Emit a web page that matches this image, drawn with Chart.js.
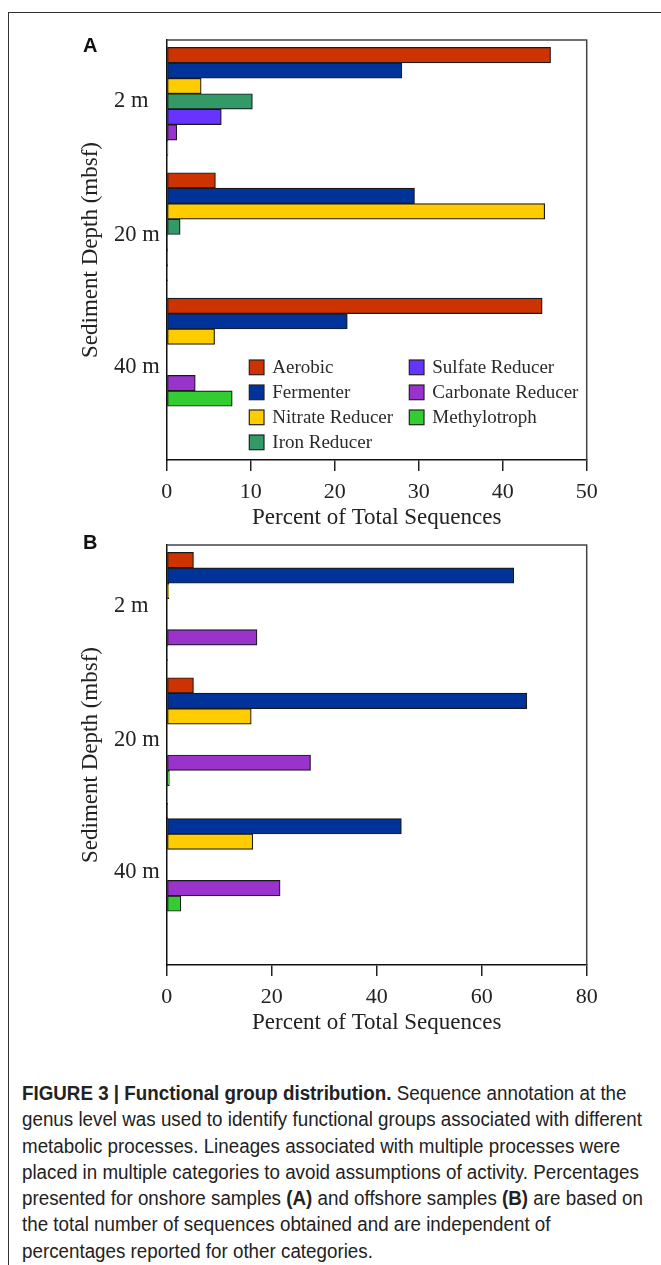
<!DOCTYPE html>
<html>
<head>
<meta charset="utf-8">
<script src="https://cdn.jsdelivr.net/npm/chart.js@4.4.1/dist/chart.umd.min.js"></script>
<style>
body { margin: 0; background: #fff; }
#page { position: relative; width: 661px; height: 1265px; overflow: hidden; }
#frame { position: absolute; left: 8px; top: 12px; width: 720px; height: 1320px; border: 1px solid #333; }
.panel-letter { position: absolute; left: 83px; font: bold 20px "Liberation Sans", Arial, sans-serif; line-height: 20px; color: #111; }
.chart-box { position: absolute; left: 0; width: 661px; height: 535px; }
#caption { position: absolute; left: 22px; top: 1080px; margin: 0; white-space: nowrap; transform-origin: 0 0;
  font: 19.5px "Liberation Sans", Arial, sans-serif; line-height: 26.3px; color: #222; }
</style>
</head>
<body>
<div id="page">
  <div id="frame"></div>
  <div class="chart-box" style="top:0"><canvas id="chartA" width="661" height="535"></canvas></div>
  <div class="chart-box" style="top:505px"><canvas id="chartB" width="661" height="535"></canvas></div>
  <div class="panel-letter" style="top:35px">A</div>
  <div class="panel-letter" style="top:532px">B</div>
  <p id="caption"><b>FIGURE 3 | Functional group distribution.</b> Sequence annotation at the<br>genus level was used to identify functional groups associated with different<br>metabolic processes. Lineages associated with multiple processes were<br>placed in multiple categories to avoid assumptions of activity. Percentages<br>presented for onshore samples <b>(A)</b> and offshore samples <b>(B)</b> are based on<br>the total number of sequences obtained and are independent of<br>percentages reported for other categories.</p>
</div>
<script>
"use strict";
const depths = ["2 m", "20 m", "40 m"];
const groups = ["Aerobic", "Fermenter", "Nitrate Reducer", "Iron Reducer", "Sulfate Reducer", "Carbonate Reducer", "Methylotroph"];
const groupColors = ["#cc3300", "#003399", "#ffcc00", "#339966", "#6633ff", "#9933cc", "#33cc33"];

// percent of total sequences, one array per depth, in the order of groups
// A: onshore
const onshore2m = [45.7, 28.0, 4.1, 10.2, 6.5, 1.2, 0.15];
const onshore20m = [5.8, 29.5, 45.0, 1.6, 0.1, 0.1, 0.1];
const onshore40m = [44.7, 21.5, 5.7, 0, 0, 3.4, 7.8];
// B: offshore
const offshore2m = [5.1, 66.1, 0.4, 0, 0, 17.2, 0.2];
const offshore20m = [5.1, 68.6, 16.1, 0, 0, 27.4, 0.5];
const offshore40m = [0.2, 44.7, 16.4, 0, 0, 21.6, 2.7];

const xTicksA = [0, 10, 20, 30, 40, 50];
const xTicksB = [0, 20, 40, 60, 80];

const serif = '"Liberation Serif", "Times New Roman", serif';

// top and right sides of the plot box
const plotFrame = {
    id: "plotFrame",
    afterDraw(chart) {
        const { ctx, chartArea: a } = chart;
        ctx.save();
        ctx.strokeStyle = "#444";
        ctx.lineWidth = 1.5;
        ctx.beginPath();
        ctx.moveTo(a.left, a.top);
        ctx.lineTo(a.right, a.top);
        ctx.lineTo(a.right, a.bottom);
        ctx.stroke();
        ctx.restore();
    }
};

// two column legend sitting inside the plot
const boxLegend = {
    id: "boxLegend",
    afterDraw(chart, args, opts) {
        if (!opts.show) return;
        const { ctx, chartArea: a } = chart;
        ctx.save();
        ctx.font = "19px " + serif;
        ctx.textBaseline = "middle";
        chart.data.datasets.forEach(function (ds, i) {
            let col = i < 4 ? 0 : 1;
            let row = i < 4 ? i : i - 4;
            let bx = a.left + (col ? 242.6 : 82.6);
            let cy = a.top + 327.3 + row * 25;
            ctx.fillStyle = ds.backgroundColor;
            ctx.fillRect(bx, cy - 7.3, 14.7, 14.7);
            ctx.strokeStyle = "#222";
            ctx.lineWidth = 1.2;
            ctx.strokeRect(bx, cy - 7.3, 14.7, 14.7);
            ctx.fillStyle = "#2a2a2a";
            ctx.fillText(ds.label, bx + 23, cy + 1);
        });
        ctx.restore();
    }
};

function makeChart(id, rows, xTicks, withLegend) {
    const datasets = groups.map(function (name, g) {
        return {
            label: name,
            data: rows.map((row, d) => ({ x: row[g], y: d })),
            backgroundColor: groupColors[g],
            borderColor: "#1a1a1a",
            borderWidth: 1.2,
            borderSkipped: false,
            barThickness: 15.45,
            xAxisID: "x",
            yAxisID: "y"
        };
    });

    return new Chart(document.getElementById(id), {
        type: "bar",
        data: { datasets: datasets },
        options: {
            indexAxis: "y",
            responsive: false,
            animation: false,
            layout: { padding: { left: 77, top: 40, right: 74.3, bottom: 3 } },
            plugins: {
                legend: { display: false },
                tooltip: { enabled: false },
                boxLegend: { show: withLegend }
            },
            scales: {
                x: {
                    type: "linear",
                    position: "bottom",
                    min: xTicks[0],
                    max: xTicks[xTicks.length - 1],
                    ticks: { stepSize: xTicks[1] - xTicks[0], font: { family: serif, size: 22 }, color: "#222", padding: 8, maxRotation: 0, autoSkip: false },
                    grid: { display: true, drawOnChartArea: false, drawTicks: true, tickLength: 11, color: "#222", lineWidth: 1.5 },
                    border: { display: true, color: "#111", width: 1.5 },
                    title: { display: true, text: "Percent of Total Sequences", font: { family: serif, size: 23 }, color: "#222", padding: 0 },
                    afterFit: function (s) { s.height = 72; }
                },
                y: {
                    type: "linear",
                    position: "left",
                    reverse: true,
                    offset: false,
                    min: -0.49,
                    max: 2.86,
                    afterBuildTicks: function (s) { s.ticks = [0, 1.07, 2.12].map(v => ({ value: v })); },
                    ticks: { callback: (v, i) => depths[i], font: { family: serif, size: 22.5 }, color: "#222", crossAlign: "far", autoSkip: false },
                    grid: { display: false, offset: false },
                    border: { display: true, color: "#111", width: 1.5 },
                    afterFit: function (s) { s.width = 52.7; }
                },
                yTitle: {
                    type: "linear",
                    position: "left",
                    weight: 1,
                    ticks: { display: false },
                    grid: { display: false },
                    border: { display: false },
                    title: { display: true, text: "Sediment Depth (mbsf)", font: { family: serif, size: 23 }, color: "#222", padding: 0 },
                    afterFit: function (s) { s.width = 37; }
                }
            }
        },
        plugins: [plotFrame, boxLegend]
    });
}

makeChart("chartA", [onshore2m, onshore20m, onshore40m], xTicksA, true);
makeChart("chartB", [offshore2m, offshore20m, offshore40m], xTicksB, false);

// the caption face in the original is a condensed sans: squeeze the widest line to its width
const caption = document.getElementById("caption");
const naturalWidth = caption.getBoundingClientRect().width;
caption.style.transform = "scaleX(" + (621 / naturalWidth) + ")";
</script>
</body>
</html>
